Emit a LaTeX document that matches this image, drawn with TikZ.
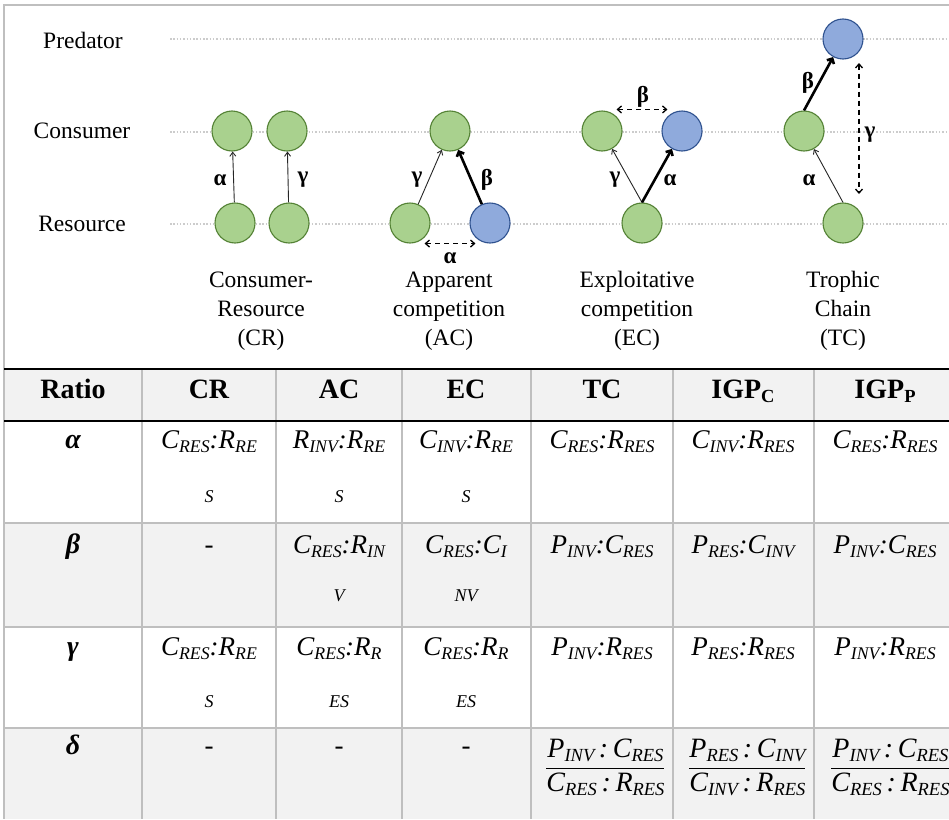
\documentclass[tikz,border=0pt]{standalone}
\usepackage{fontspec}
\IfFontExistsTF{LiberationSerif-Regular.ttf}{%
  \setmainfont{LiberationSerif}[Extension=.ttf,UprightFont=*-Regular,BoldFont=*-Bold,ItalicFont=*-Italic,BoldItalicFont=*-BoldItalic]}{%
  \setmainfont{Liberation Serif}}
\usetikzlibrary{arrows.meta}
\definecolor{gfill}{HTML}{A9D18E}
\definecolor{gdraw}{HTML}{548235}
\definecolor{bfill}{HTML}{8FAADC}
\definecolor{bdraw}{HTML}{2F528F}
\definecolor{gridc}{HTML}{BFBFBF}
\definecolor{rowgray}{HTML}{F2F2F2}
\definecolor{dotc}{HTML}{CCCCCC}
\newcommand\sbi[1]{\raisebox{-0.16em}{\scalebox{0.66}{#1}}}
\newcommand\frc[2]{$\displaystyle\frac{\hbox{\itshape #1}}{\hbox{\itshape #2}}$}
\begin{document}
\begin{tikzpicture}[x=1pt,y=-1pt,
  gnode/.style={circle,fill=gfill,draw=gdraw,line width=1.1pt,minimum size=40pt,inner sep=0pt},
  bnode/.style={circle,fill=bfill,draw=bdraw,line width=1.1pt,minimum size=40pt,inner sep=0pt},
  thinarr/.style={-{Straight Barb[length=4pt,width=6pt]},line width=0.9pt,draw=black!85},
  thickarr/.style={-{Straight Barb[length=4pt,width=8pt]},line width=2.6pt},
  dasharr/.style={{Straight Barb[length=4pt,width=7pt]}-{Straight Barb[length=4pt,width=7pt]},dash pattern=on 5pt off 4pt,line width=1.3pt},
  lvl/.style={font=\rmfamily\fontsize{23.5}{28}\selectfont,inner sep=0pt},
  glab/.style={font=\rmfamily\fontsize{23}{26}\selectfont\bfseries,inner sep=0pt},
  captext/.style={font=\rmfamily\fontsize{23.5}{29}\selectfont,align=center,inner sep=0pt},
  dotline/.style={draw=dotc,line width=1.3pt,dash pattern=on 1.5pt off 1.8pt},
  gridl/.style={draw=gridc,line width=1.6pt},
  hdr/.style={font=\rmfamily\fontsize{28}{30}\selectfont\bfseries,anchor=base,inner sep=0pt},
  cellA/.style={font=\rmfamily\fontsize{27}{30}\selectfont\itshape,anchor=base,inner sep=0pt},
  cellB/.style={font=\rmfamily\fontsize{18}{20}\selectfont\itshape,anchor=base,inner sep=0pt},
  gk/.style={font=\rmfamily\fontsize{28}{30}\selectfont\bfseries\itshape,anchor=base,inner sep=0pt},
  fracnode/.style={font=\rmfamily\fontsize{28}{30}\selectfont,anchor=base west,inner sep=0pt}
]
\useasboundingbox (0,0) rectangle (949,819);
\fill[white] (0,0) rectangle (949,819);
% frame
\draw[gridl,line width=1.2pt] (4,369) -- (4,5) -- (949,5);
% level lines
\draw[dotline] (170,39) -- (949,39);
\draw[dotline] (170,132) -- (949,132);
\draw[dotline] (170,224) -- (949,224);
% level labels
\node[lvl] (lp) at (83,40) {Predator};
\node[lvl] (lc) at (82,131) {Consumer};
\node[lvl] (lr) at (82,224) {Resource};
% circles
\node[gnode] (crC1) at (232,131) {};
\node[gnode] (crC2) at (287,131) {};
\node[gnode] (crR1) at (235,223) {};
\node[gnode] (crR2) at (289,223) {};
\node[gnode] (acC) at (450,131) {};
\node[gnode] (acR1) at (410,223) {};
\node[bnode] (acR2) at (490,223) {};
\node[gnode] (ecC1) at (602,131) {};
\node[bnode] (ecC2) at (682,131) {};
\node[gnode] (ecR) at (642,223) {};
\node[bnode] (tcP) at (843,39) {};
\node[gnode] (tcC) at (804,131) {};
\node[gnode] (tcR) at (843,223) {};
% arrows
\draw[thinarr] (crR1) -- (crC1);
\draw[thinarr] (crR2) -- (crC2);
\draw[thinarr] (acR1) -- (acC);
\draw[thickarr] (acR2) -- (acC);
\draw[thinarr] (ecR.north) -- (ecC1);
\draw[thickarr] (ecR.north) -- (ecC2);
\draw[thinarr] (tcR.north) -- (tcC);
\draw[thickarr] (tcC.north) -- (tcP);
\draw[dasharr] ([yshift=-6pt]acR1.south east) -- ([yshift=-6pt]acR2.south west);
\draw[dasharr] ([yshift=7pt]ecC1.north east) -- ([yshift=7pt]ecC2.north west);
\coordinate (tcG1) at (859,63);
\coordinate (tcG2) at (859,194);
\draw[dasharr] (tcG1) -- (tcG2);
% greek labels
\node[glab] (lcra) at (220,180) {α};
\node[glab] (lcrg) at (303,180) {γ};
\node[glab] (lacg) at (417,180) {γ};
\node[glab] (lacb) at (487,180) {β};
\node[glab] (laca) at (450,258) {α};
\node[glab] (lecb) at (643,97) {β};
\node[glab] (lecg) at (615,180) {γ};
\node[glab] (leca) at (670,180) {α};
\node[glab] (ltcb) at (808,83) {β};
\node[glab] (ltca) at (809,180) {α};
\node[glab] (ltcg) at (870,135) {γ};
% captions
\node[captext] (capcr) at (261,311) {Consumer-\\Resource\\(CR)};
\node[captext] (capac) at (449,311) {Apparent\\competition\\(AC)};
\node[captext] (capec) at (637,311) {Exploitative\\competition\\(EC)};
\node[captext] (captc) at (843,311) {Trophic\\Chain\\(TC)};
% table fills
\fill[rowgray] (4,369) rectangle (949,421);
\fill[rowgray] (4,523) rectangle (949,627);
\fill[rowgray] (4,728) rectangle (949,819);
% grid
\foreach \x in {4,142,276,402,531,673,814} \draw[gridl] (\x,369) -- (\x,819);
\foreach \y in {523,627,728} \draw[gridl] (4,\y) -- (949,\y);
\draw[line width=2.5pt] (4,369) -- (949,369);
\draw[line width=2.5pt] (4,421) -- (949,421);
% header
\node[hdr] (h0) at (73,398) {Ratio};
\node[hdr] (h1) at (209,398) {CR};
\node[hdr] (h2) at (339,398) {AC};
\node[hdr] (h3) at (466,398) {EC};
\node[hdr] (h4) at (602,398) {TC};
\node[hdr] (h5) at (743,398) {IGP\sbi{C}};
\node[hdr] (h6) at (885,398) {IGP\sbi{P}};
% alpha row
\node[gk] (ra) at (73,448) {α};
\node[cellA] (a1) at (209,448) {C\sbi{RES}:R\sbi{RE}};
\node[cellB] (a1b) at (209,502) {S};
\node[cellA] (a2) at (339,448) {R\sbi{INV}:R\sbi{RE}};
\node[cellB] (a2b) at (339,502) {S};
\node[cellA] (a3) at (466,448) {C\sbi{INV}:R\sbi{RE}};
\node[cellB] (a3b) at (466,502) {S};
\node[cellA] (a4) at (602,448) {C\sbi{RES}:R\sbi{RES}};
\node[cellA] (a5) at (743,448) {C\sbi{INV}:R\sbi{RES}};
\node[cellA] (a6) at (885,448) {C\sbi{RES}:R\sbi{RES}};
% beta row
\node[gk] (rb) at (73,553) {β};
\node[cellA] (b1) at (209,553) {-};
\node[cellA] (b2) at (339,553) {C\sbi{RES}:R\sbi{IN}};
\node[cellB] (b2b) at (339,601) {V};
\node[cellA] (b3) at (466,553) {C\sbi{RES}:C\sbi{I}};
\node[cellB] (b3b) at (466,601) {NV};
\node[cellA] (b4) at (602,553) {P\sbi{INV}:C\sbi{RES}};
\node[cellA] (b5) at (743,553) {P\sbi{RES}:C\sbi{INV}};
\node[cellA] (b6) at (885,553) {P\sbi{INV}:C\sbi{RES}};
% gamma row
\node[gk] (rg) at (73,655) {γ};
\node[cellA] (g1) at (209,655) {C\sbi{RES}:R\sbi{RE}};
\node[cellB] (g1b) at (209,707) {S};
\node[cellA] (g2) at (339,655) {C\sbi{RES}:R\sbi{R}};
\node[cellB] (g2b) at (339,707) {ES};
\node[cellA] (g3) at (466,655) {C\sbi{RES}:R\sbi{R}};
\node[cellB] (g3b) at (466,707) {ES};
\node[cellA] (g4) at (602,655) {P\sbi{INV}:R\sbi{RES}};
\node[cellA] (g5) at (743,655) {P\sbi{RES}:R\sbi{RES}};
\node[cellA] (g6) at (885,655) {P\sbi{INV}:R\sbi{RES}};
% delta row
\node[gk] (rd) at (73,754) {δ};
\node[cellA] (d1) at (209,754) {-};
\node[cellA] (d2) at (339,754) {-};
\node[cellA] (d3) at (466,754) {-};
\node[fracnode] (d4) at (545,774) {\frc{P\sbi{INV}\,:\,C\sbi{RES}}{C\sbi{RES}\,:\,R\sbi{RES}}};
\node[fracnode] (d5) at (688,774) {\frc{P\sbi{RES}\,:\,C\sbi{INV}}{C\sbi{INV}\,:\,R\sbi{RES}}};
\node[fracnode] (d6) at (830,774) {\frc{P\sbi{INV}\,:\,C\sbi{RES}}{C\sbi{RES}\,:\,R\sbi{RES}}};
\end{tikzpicture}
\end{document}
